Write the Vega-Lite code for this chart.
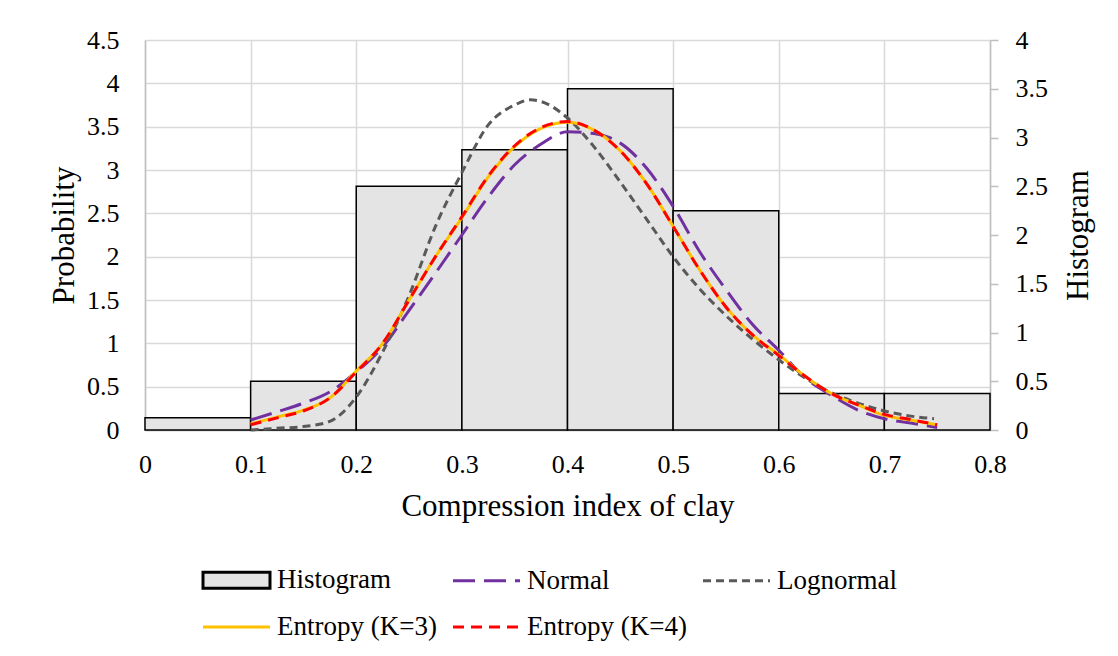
{
  "$schema": "https://vega.github.io/schema/vega-lite/v6.json",
  "width": 845,
  "height": 390,
  "autosize": {"type": "none"},
  "padding": {"left": 145, "top": 40, "right": 128, "bottom": 226},
  "background": "white",
  "config": {
    "view": {"stroke": null},
    "font": "Liberation Serif",
    "axis": {
      "labelFont": "Liberation Serif",
      "titleFont": "Liberation Serif",
      "labelFontSize": 26,
      "titleFontSize": 31,
      "labelColor": "#000000",
      "titleColor": "#000000",
      "titleFontWeight": "normal",
      "gridColor": "#d9d9d9",
      "gridWidth": 1.5,
      "domainColor": "#bfbfbf",
      "domainWidth": 1.5,
      "tickColor": "#bfbfbf",
      "tickWidth": 1.5
    }
  },
  "datasets": {
    "hist": [
      {"x0": 0.0, "x1": 0.1, "h": 0.125},
      {"x0": 0.1, "x1": 0.2, "h": 0.5},
      {"x0": 0.2, "x1": 0.3, "h": 2.5},
      {"x0": 0.3, "x1": 0.4, "h": 2.875},
      {"x0": 0.4, "x1": 0.5, "h": 3.5},
      {"x0": 0.5, "x1": 0.6, "h": 2.25},
      {"x0": 0.6, "x1": 0.7, "h": 0.375},
      {"x0": 0.7, "x1": 0.8, "h": 0.375}
    ],
    "curves": [
      {"series": "Normal", "x": 0.1, "p": 0.115},
      {"series": "Normal", "x": 0.125, "p": 0.21},
      {"series": "Normal", "x": 0.15, "p": 0.31},
      {"series": "Normal", "x": 0.175, "p": 0.44},
      {"series": "Normal", "x": 0.2, "p": 0.67},
      {"series": "Normal", "x": 0.225, "p": 0.96},
      {"series": "Normal", "x": 0.25, "p": 1.38},
      {"series": "Normal", "x": 0.275, "p": 1.81},
      {"series": "Normal", "x": 0.3, "p": 2.25},
      {"series": "Normal", "x": 0.325, "p": 2.69},
      {"series": "Normal", "x": 0.35, "p": 3.06},
      {"series": "Normal", "x": 0.375, "p": 3.3},
      {"series": "Normal", "x": 0.4, "p": 3.44},
      {"series": "Normal", "x": 0.425, "p": 3.42},
      {"series": "Normal", "x": 0.45, "p": 3.31},
      {"series": "Normal", "x": 0.475, "p": 3.02},
      {"series": "Normal", "x": 0.5, "p": 2.58},
      {"series": "Normal", "x": 0.525, "p": 2.06},
      {"series": "Normal", "x": 0.55, "p": 1.62},
      {"series": "Normal", "x": 0.575, "p": 1.22},
      {"series": "Normal", "x": 0.6, "p": 0.92},
      {"series": "Normal", "x": 0.625, "p": 0.6},
      {"series": "Normal", "x": 0.65, "p": 0.4},
      {"series": "Normal", "x": 0.675, "p": 0.23},
      {"series": "Normal", "x": 0.7, "p": 0.13},
      {"series": "Normal", "x": 0.725, "p": 0.08},
      {"series": "Normal", "x": 0.75, "p": 0.03},

      {"series": "Lognormal", "x": 0.1, "p": 0.0},
      {"series": "Lognormal", "x": 0.125, "p": 0.02},
      {"series": "Lognormal", "x": 0.15, "p": 0.04},
      {"series": "Lognormal", "x": 0.175, "p": 0.1},
      {"series": "Lognormal", "x": 0.2, "p": 0.38},
      {"series": "Lognormal", "x": 0.225, "p": 0.9},
      {"series": "Lognormal", "x": 0.25, "p": 1.55},
      {"series": "Lognormal", "x": 0.275, "p": 2.35},
      {"series": "Lognormal", "x": 0.3, "p": 2.97},
      {"series": "Lognormal", "x": 0.325, "p": 3.52},
      {"series": "Lognormal", "x": 0.35, "p": 3.75},
      {"series": "Lognormal", "x": 0.365, "p": 3.81},
      {"series": "Lognormal", "x": 0.375, "p": 3.79},
      {"series": "Lognormal", "x": 0.4, "p": 3.6},
      {"series": "Lognormal", "x": 0.425, "p": 3.27},
      {"series": "Lognormal", "x": 0.45, "p": 2.86},
      {"series": "Lognormal", "x": 0.475, "p": 2.43},
      {"series": "Lognormal", "x": 0.5, "p": 2.0},
      {"series": "Lognormal", "x": 0.525, "p": 1.63},
      {"series": "Lognormal", "x": 0.55, "p": 1.32},
      {"series": "Lognormal", "x": 0.575, "p": 1.05},
      {"series": "Lognormal", "x": 0.6, "p": 0.81},
      {"series": "Lognormal", "x": 0.625, "p": 0.6},
      {"series": "Lognormal", "x": 0.65, "p": 0.43},
      {"series": "Lognormal", "x": 0.675, "p": 0.31},
      {"series": "Lognormal", "x": 0.7, "p": 0.22},
      {"series": "Lognormal", "x": 0.725, "p": 0.16},
      {"series": "Lognormal", "x": 0.747, "p": 0.13},

      {"series": "Entropy (K=3)", "x": 0.1, "p": 0.07},
      {"series": "Entropy (K=3)", "x": 0.125, "p": 0.15},
      {"series": "Entropy (K=3)", "x": 0.15, "p": 0.23},
      {"series": "Entropy (K=3)", "x": 0.175, "p": 0.37},
      {"series": "Entropy (K=3)", "x": 0.2, "p": 0.68},
      {"series": "Entropy (K=3)", "x": 0.225, "p": 1.0},
      {"series": "Entropy (K=3)", "x": 0.25, "p": 1.5},
      {"series": "Entropy (K=3)", "x": 0.275, "p": 2.0},
      {"series": "Entropy (K=3)", "x": 0.3, "p": 2.45},
      {"series": "Entropy (K=3)", "x": 0.325, "p": 2.92},
      {"series": "Entropy (K=3)", "x": 0.35, "p": 3.27},
      {"series": "Entropy (K=3)", "x": 0.375, "p": 3.48},
      {"series": "Entropy (K=3)", "x": 0.4, "p": 3.55},
      {"series": "Entropy (K=3)", "x": 0.425, "p": 3.46},
      {"series": "Entropy (K=3)", "x": 0.45, "p": 3.22},
      {"series": "Entropy (K=3)", "x": 0.475, "p": 2.84},
      {"series": "Entropy (K=3)", "x": 0.5, "p": 2.35},
      {"series": "Entropy (K=3)", "x": 0.525, "p": 1.85},
      {"series": "Entropy (K=3)", "x": 0.55, "p": 1.42},
      {"series": "Entropy (K=3)", "x": 0.575, "p": 1.1},
      {"series": "Entropy (K=3)", "x": 0.6, "p": 0.87},
      {"series": "Entropy (K=3)", "x": 0.625, "p": 0.62},
      {"series": "Entropy (K=3)", "x": 0.65, "p": 0.42},
      {"series": "Entropy (K=3)", "x": 0.675, "p": 0.29},
      {"series": "Entropy (K=3)", "x": 0.7, "p": 0.17},
      {"series": "Entropy (K=3)", "x": 0.725, "p": 0.115},
      {"series": "Entropy (K=3)", "x": 0.75, "p": 0.06},

      {"series": "Entropy (K=4)", "x": 0.1, "p": 0.06},
      {"series": "Entropy (K=4)", "x": 0.125, "p": 0.14},
      {"series": "Entropy (K=4)", "x": 0.15, "p": 0.22},
      {"series": "Entropy (K=4)", "x": 0.175, "p": 0.37},
      {"series": "Entropy (K=4)", "x": 0.2, "p": 0.67},
      {"series": "Entropy (K=4)", "x": 0.225, "p": 1.0},
      {"series": "Entropy (K=4)", "x": 0.25, "p": 1.5},
      {"series": "Entropy (K=4)", "x": 0.275, "p": 2.0},
      {"series": "Entropy (K=4)", "x": 0.3, "p": 2.46},
      {"series": "Entropy (K=4)", "x": 0.325, "p": 2.93},
      {"series": "Entropy (K=4)", "x": 0.35, "p": 3.28},
      {"series": "Entropy (K=4)", "x": 0.375, "p": 3.49},
      {"series": "Entropy (K=4)", "x": 0.4, "p": 3.56},
      {"series": "Entropy (K=4)", "x": 0.425, "p": 3.46},
      {"series": "Entropy (K=4)", "x": 0.45, "p": 3.22},
      {"series": "Entropy (K=4)", "x": 0.475, "p": 2.84},
      {"series": "Entropy (K=4)", "x": 0.5, "p": 2.35},
      {"series": "Entropy (K=4)", "x": 0.525, "p": 1.85},
      {"series": "Entropy (K=4)", "x": 0.55, "p": 1.42},
      {"series": "Entropy (K=4)", "x": 0.575, "p": 1.1},
      {"series": "Entropy (K=4)", "x": 0.6, "p": 0.86},
      {"series": "Entropy (K=4)", "x": 0.625, "p": 0.62},
      {"series": "Entropy (K=4)", "x": 0.65, "p": 0.42},
      {"series": "Entropy (K=4)", "x": 0.675, "p": 0.29},
      {"series": "Entropy (K=4)", "x": 0.7, "p": 0.18},
      {"series": "Entropy (K=4)", "x": 0.725, "p": 0.12},
      {"series": "Entropy (K=4)", "x": 0.75, "p": 0.06}
    ]
  },
  "layer": [
    {
      "data": {"name": "hist"},
      "mark": {"type": "rect", "fill": "#e4e4e4", "stroke": "#000000", "strokeWidth": 1.5},
      "encoding": {
        "x": {
          "field": "x0", "type": "quantitative",
          "scale": {"domain": [0, 0.8], "nice": false, "zero": false},
          "axis": {
            "title": "Compression index of clay",
            "values": [0, 0.1, 0.2, 0.3, 0.4, 0.5, 0.6, 0.7, 0.8],
            "format": "~g",
            "grid": true,
            "ticks": false,
            "labelPadding": 21,
            "titlePadding": 14,
            "labelFlush": false
          }
        },
        "x2": {"field": "x1"},
        "y": {
          "field": "h", "type": "quantitative",
          "scale": {"domain": [0, 4], "nice": false},
          "axis": {
            "orient": "right",
            "title": "Histogram",
            "values": [0, 0.5, 1, 1.5, 2, 2.5, 3, 3.5, 4],
            "format": "~g",
            "grid": false,
            "ticks": true,
            "tickSize": 8,
            "labelPadding": 17,
            "titlePadding": 16,
            "titleAngle": 270,
            "titleBaseline": "top",
            "labelFlush": false
          }
        },
        "y2": {"datum": 0}
      }
    },
    {
      "data": {"name": "curves"},
      "mark": {"type": "line", "strokeWidth": 3, "interpolate": "monotone"},
      "encoding": {
        "x": {"field": "x", "type": "quantitative", "scale": {"domain": [0, 0.8], "nice": false, "zero": false}},
        "y": {
          "field": "p", "type": "quantitative",
          "scale": {"domain": [0, 4.5], "nice": false},
          "axis": {
            "orient": "left",
            "title": "Probability",
            "values": [0, 0.5, 1, 1.5, 2, 2.5, 3, 3.5, 4, 4.5],
            "format": "~g",
            "grid": true,
            "ticks": false,
            "labelPadding": 26,
            "titlePadding": 6,
            "labelFlush": false
          }
        },
        "color": {
          "field": "series", "type": "nominal",
          "scale": {
            "domain": ["Histogram", "Normal", "Lognormal", "Entropy (K=3)", "Entropy (K=4)"],
            "range": ["#000000", "#7030a0", "#595959", "#ffc000", "#ff0000"]
          },
          "legend": {
            "title": null,
            "orient": "none",
            "legendX": 58,
            "legendY": 521.5,
            "direction": "horizontal",
            "columns": 3,
            "columnPadding": 10,
            "rowPadding": 14,
            "gridAlign": "all",
            "padding": 0,
            "symbolType": "M-2,0H2",
            "symbolSize": 1122,
            "symbolStrokeWidth": 3,
            "symbolOffset": 15,
            "labelOffset": 22,
            "labelFont": "Liberation Serif",
            "labelFontSize": 27,
            "labelColor": "#000000",
            "labelLimit": 400,
            "encode": {
              "symbols": {
                "update": {
                  "shape": {"signal": "datum.value === 'Histogram' ? 'M-2,-0.48H2V0.48H-2Z' : 'M-2,0H2'"},
                  "fill": {"signal": "datum.value === 'Histogram' ? '#e4e4e4' : 'transparent'"}
                }
              }
            }
          }
        },
        "strokeDash": {
          "field": "series", "type": "nominal",
          "scale": {
            "domain": ["Histogram", "Normal", "Lognormal", "Entropy (K=3)", "Entropy (K=4)"],
            "range": [[1, 0], [22, 9], [8, 5], [1, 0], [11, 7]]
          }
        }
      }
    }
  ],
  "resolve": {"scale": {"y": "independent"}, "axis": {"y": "independent"}}
}
